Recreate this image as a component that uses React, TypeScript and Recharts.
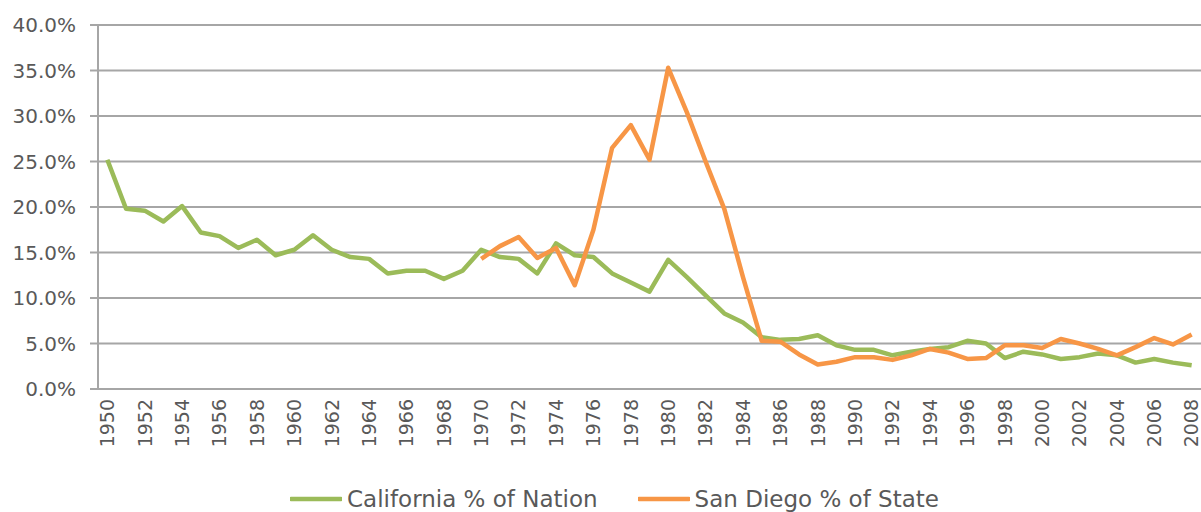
import { LineChart, Line, XAxis, YAxis, CartesianGrid, Legend } from "recharts";

const years = Array.from({ length: 59 }, (_, i) => 1950 + i);

// California % of Nation
const california = [
  25.2, 19.8, 19.6, 18.4, 20.1, 17.2, 16.8, 15.5, 16.4, 14.7,
  15.3, 16.9, 15.3, 14.5, 14.3, 12.7, 13.0, 13.0, 12.1, 13.0,
  15.3, 14.5, 14.3, 12.7, 16.0, 14.7, 14.5, 12.7, 11.7, 10.7,
  14.2, 12.3, 10.3, 8.3, 7.3, 5.7, 5.4, 5.5, 5.9, 4.8,
  4.3, 4.3, 3.7, 4.1, 4.4, 4.6, 5.3, 5.0, 3.4, 4.1,
  3.8, 3.3, 3.5, 3.9, 3.7, 2.9, 3.3, 2.9, 2.6,
];

// San Diego % of State (starts 1970)
const sanDiego: (number | null)[] = [
  null, null, null, null, null, null, null, null, null, null,
  null, null, null, null, null, null, null, null, null, null,
  14.3, 15.7, 16.7, 14.4, 15.5, 11.4, 17.5, 26.5, 29.0, 25.2,
  35.3, 30.4, 25.0, 19.8, 12.3, 5.3, 5.2, 3.8, 2.7, 3.0,
  3.5, 3.5, 3.2, 3.7, 4.4, 4.0, 3.3, 3.4, 4.8, 4.8,
  4.5, 5.5, 5.0, 4.4, 3.7, 4.6, 5.6, 4.9, 6.0,
];

const yTicks = [0, 5, 10, 15, 20, 25, 30, 35, 40];
const labelTicks = years.filter((y) => y % 2 === 0);
const boundaryTicks = [...years.map((y) => y - 0.5), years[years.length - 1] + 0.5];

const data = years.map((year, i) => ({
  year,
  ca: california[i],
  sd: sanDiego[i],
}));

const FONT = "'DejaVu Sans', sans-serif";
const TEXT = "#595959";
const GRID = "#a6a6a6";

function YearTick({ x, y, payload }: any) {
  return (
    <text
      x={x}
      y={y}
      dy="0.36em"
      transform={`rotate(-90 ${x} ${y})`}
      textAnchor="end"
      fill={TEXT}
      fontSize={19}
      fontFamily={FONT}
    >
      {payload.value}
    </text>
  );
}

function LegendContent({ payload }: any) {
  return (
    <div
      style={{
        display: "flex",
        justifyContent: "center",
        gap: 40,
        fontFamily: FONT,
        fontSize: 23,
        color: TEXT,
        lineHeight: "26px",
        paddingLeft: 20,
      }}
    >
      {payload.map((p: any) => (
        <div key={p.value} style={{ display: "flex", alignItems: "center" }}>
          <svg width={52} height={10} style={{ marginRight: 5 }}>
            <line x1={1} y1={5} x2={51} y2={5} stroke={p.color} strokeWidth={4.5} strokeLinecap="round" />
          </svg>
          <span>{p.value}</span>
        </div>
      ))}
    </div>
  );
}

export default function App() {
  return (
    <div style={{ position: "fixed", left: 0, top: 0, background: "#fff" }}>
      <LineChart width={1201} height={512} data={data} margin={{ top: 25, right: 0, bottom: 0, left: 8 }}>
        <CartesianGrid xAxisId="labels" vertical={false} stroke={GRID} strokeWidth={2} />
        <XAxis
          xAxisId="grid"
          type="number"
          domain={[1949.5, 2008.5]}
          ticks={boundaryTicks}
          tickFormatter={() => ""}
          height={8}
          tickSize={8}
          stroke={GRID}
          strokeWidth={2}
          interval={0}
        />
        <XAxis
          xAxisId="labels"
          dataKey="year"
          type="number"
          domain={[1949.5, 2008.5]}
          ticks={labelTicks}
          tick={<YearTick />}
          interval={0}
          height={89}
          axisLine={false}
          tickLine={false}
          tickSize={0}
          tickMargin={2}
        />
        <YAxis
          domain={[0, 40]}
          ticks={yTicks}
          width={90}
          tickFormatter={(v: number) => `${v.toFixed(1)}%`}
          tick={{ fill: TEXT, fontSize: 20, fontFamily: FONT }}
          tickSize={8}
          tickMargin={14}
          stroke={GRID}
          strokeWidth={2}
          interval={0}
        />
        <Legend content={<LegendContent />} height={26} verticalAlign="bottom" />
        <Line
          xAxisId="labels"
          dataKey="ca"
          name="California % of Nation"
          stroke="#9bbb59"
          strokeWidth={4.5}
          dot={false}
          strokeLinejoin="round"
          isAnimationActive={false}
        />
        <Line
          xAxisId="labels"
          dataKey="sd"
          name="San Diego % of State"
          stroke="#f79646"
          strokeWidth={4.5}
          dot={false}
          strokeLinejoin="round"
          isAnimationActive={false}
        />
      </LineChart>
    </div>
  );
}
